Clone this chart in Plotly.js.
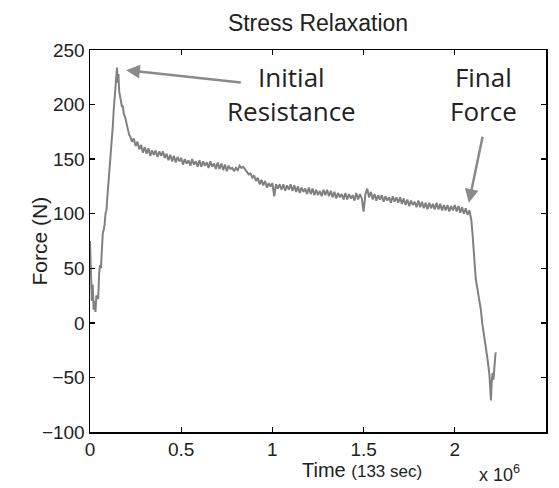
<!DOCTYPE html>
<html>
<head>
<meta charset="utf-8">
<script src="https://cdn.plot.ly/plotly-3.0.1.min.js"></script>
<style>html,body{margin:0;padding:0;background:#fff;}#chart{width:559px;height:488px;}</style>
</head>
<body>
<div id="chart"></div>
<script>
// Time in units of 10^6 (x 10^6 label), force in N
var timeRise = [0.000,0.005,0.010,0.015,0.020,0.025,0.030,0.035,0.045,0.050,0.055,0.060,0.065,0.070,0.075,0.080,0.085,0.090,0.095,0.100,0.105,0.110,0.115,0.120,0.125,0.130,0.135,0.140,0.145,0.148,0.152,0.156,0.160,0.165,0.170,0.175,0.180,0.185,0.190,0.195,0.200,0.205,0.210,0.215,0.220,0.230,0.240,0.250,0.260,0.270,0.280,0.290];
var forceRise = [75,40,20,35,12,20,10,25,22,45,53,50,70,82,85,90,100,103,115,125,135,145,158,165,180,195,205,212,225,234,220,228,212,205,203,198,199,192,190,187,183,178,175,172,171,166,169,162,166,159,163,156];

var timePlateau = [
0.30,0.31,0.32,0.33,0.34,0.35,0.36,0.37,0.38,0.39,
0.40,0.41,0.42,0.43,0.44,0.45,0.46,0.47,0.48,0.49,
0.50,0.51,0.52,0.53,0.54,0.55,0.56,0.57,0.58,0.59,
0.60,0.61,0.62,0.63,0.64,0.65,0.66,0.67,0.68,0.69,
0.70,0.71,0.72,0.73,0.74,0.75,0.76,0.77,0.78,0.79,
0.80,0.81,0.82,0.83,0.84,0.85,0.86,0.87,0.88,0.89,
0.90,0.91,0.92,0.93,0.94,0.95,0.96,0.97,0.98,0.99,
1.00,1.01,1.02,1.03,1.04,1.05,1.06,1.07,1.08,1.09,
1.10,1.11,1.12,1.13,1.14,1.15,1.16,1.17,1.18,1.19,
1.20,1.21,1.22,1.23,1.24,1.25,1.26,1.27,1.28,1.29,
1.30,1.31,1.32,1.33,1.34,1.35,1.36,1.37,1.38,1.39,
1.40,1.41,1.42,1.43,1.44,1.45,1.46,1.47,1.48,1.49,
1.50,1.51,1.52,1.53,1.54,1.55,1.56,1.57,1.58,1.59,
1.60,1.61,1.62,1.63,1.64,1.65,1.66,1.67,1.68,1.69,
1.70,1.71,1.72,1.73,1.74,1.75,1.76,1.77,1.78,1.79,
1.80,1.81,1.82,1.83,1.84,1.85,1.86,1.87,1.88,1.89,
1.90,1.91,1.92,1.93,1.94,1.95,1.96,1.97,1.98,1.99,
2.00,2.01,2.02,2.03,2.04,2.05,2.06,2.07,2.08];
var forcePlateau = [
161,155,160,153,158,154,158,152,157,153,
157,151,155,149,154,148,153,147,152,148,
151,145,150,146,149,144,150,145,148,143,
149,143,148,144,147,142,148,143,146,141,
147,141,146,140,145,139,144,141,142,139,
142,140,144,142,143,141,139,136,137,133,
135,130,133,127,131,126,130,124,128,125,
128,116,127,123,127,122,127,121,126,122,
127,121,126,120,125,119,124,120,123,118,
124,118,123,117,122,117,121,116,122,117,
122,116,121,115,120,114,119,115,118,113,
119,113,118,114,117,112,119,113,118,114,
102,118,123,115,120,113,118,112,117,113,
117,111,116,112,115,110,116,111,115,110,
115,109,114,108,113,107,112,108,111,106,
112,106,111,105,110,104,110,105,109,104,
110,104,109,103,108,103,108,102,107,103,
108,102,107,101,106,100,105,99,103];

var timeDrop = [2.085,2.090,2.097,2.105,2.115,2.125,2.135,2.143,2.150,2.159,2.170,2.180,2.190,2.195,2.198,2.202,2.207,2.212,2.218,2.222,2.225];
var forceDrop = [99,95,82,65,40,30,20,12,0,-9,-20,-34,-48,-60,-71,-55,-46,-52,-35,-30,-27];

var timeAll = timeRise.concat(timePlateau, timeDrop);
var forceAll = forceRise.concat(forcePlateau, forceDrop);

var xTickVals = [0,0.5,1,1.5,2,2.5];
var xTickText = ['0','0.5','1','1.5','2','2.5'];
var yTickVals = [-100,-50,0,50,100,150,200,250];

var labelInitial = 'Initial<br>Resistance';
var labelFinal = 'Final<br>Force';
var initialTip = [0.198, 231.5], initialTail = [0.835, 220];
var finalTip = [2.077, 110], finalTail = [2.154, 172];

var sans = 'Liberation Sans, Arial, sans-serif';
var tickFont = {family:sans, size:19, color:'#222'};
var noteFont = {family:'Open Sans, sans-serif', size:26, color:'#222'};

var trace = {
  x: timeAll, y: forceAll, type:'scatter', mode:'lines',
  line:{color:'#808080', width:2}, hoverinfo:'skip'
};

var axisCommon = {
  showline:true, linecolor:'#000', linewidth:1.5, mirror:'ticks',
  ticks:'inside', ticklen:5, tickwidth:1.3, tickcolor:'#000',
  showgrid:false, zeroline:false, tickfont:tickFont
};

var layout = {
  width:559, height:488,
  margin:{l:90, r:13, t:50, b:56},
  paper_bgcolor:'#fff', plot_bgcolor:'#fff',
  showlegend:false,
  title:{text:'Stress Relaxation', x:0.5, xref:'paper', y:1-23/488, yref:'container', yanchor:'middle',
         font:{family:sans, size:23, color:'#222'}},
  xaxis: Object.assign({}, axisCommon, {range:[0,2.5], tickvals:xTickVals, ticktext:xTickText}),
  yaxis: Object.assign({}, axisCommon, {range:[-100,250], tickvals:yTickVals}),
  annotations:[
    {text:labelInitial, x:1.104, y:210, xref:'x', yref:'y', showarrow:false, font:noteFont, align:'center'},
    {text:labelFinal, x:2.159, y:210, xref:'x', yref:'y', showarrow:false, font:noteFont, align:'center'},
    {text:'', x:initialTip[0], y:initialTip[1], ax:initialTail[0], ay:initialTail[1], axref:'x', ayref:'y', xref:'x', yref:'y',
     showarrow:true, arrowhead:2, arrowsize:1.1, arrowwidth:2.5, arrowcolor:'#8a8a8a'},
    {text:'', x:finalTip[0], y:finalTip[1], ax:finalTail[0], ay:finalTail[1], axref:'x', ayref:'y', xref:'x', yref:'y',
     showarrow:true, arrowhead:2, arrowsize:1.1, arrowwidth:2.5, arrowcolor:'#8a8a8a'},
    {text:'Force (N)', x:0, y:0.5, xref:'paper', yref:'paper', xshift:-65, textangle:-90, showarrow:false,
     font:{family:sans, size:21, color:'#222'}},
    {text:'Time <span style="font-size:17px">(133 sec)</span>', x:(362-90)/456, y:0, xref:'paper', yref:'paper', yshift:-38, yanchor:'middle', showarrow:false,
     font:{family:sans, size:20, color:'#222'}},
    {text:'x 10<sup>6</sup>', x:(522-90)/456, y:0, xref:'paper', yref:'paper', yshift:-41, yanchor:'middle', showarrow:false,
     font:{family:sans, size:18, color:'#222'}}
  ]
};

Plotly.newPlot('chart', [trace], layout, {staticPlot:true, displayModeBar:false});
</script>
</body>
</html>
